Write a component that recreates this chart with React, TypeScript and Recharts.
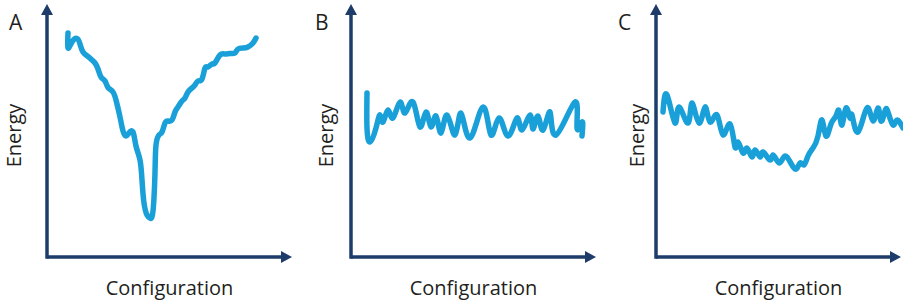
import { LineChart, Line, XAxis, YAxis } from 'recharts'

const AXIS = '#1d3c69'
const CURVE = '#1aa0d8'
const TEXT = '#231f20'
const FONT = '"Open Sans", "DejaVu Sans", sans-serif'

const xLabel = 'Configuration'
const yLabel = 'Energy'

// Panel A: rough funnel with one deep minimum
const configA = [21, 21, 25, 30, 33, 36, 41, 45, 48, 51, 54, 58, 61, 66, 69.5, 73, 76, 79, 82, 86,
  89, 93, 95, 97, 100, 103, 106, 108, 109, 112, 115, 118, 121, 125, 128, 131, 135, 138, 141, 145,
  148, 151, 155, 158, 161, 165, 168, 173, 178, 183, 188, 191, 196, 201, 206, 209]
const energyA = [224, 209, 215, 218.5, 213, 205, 200.5, 197, 194, 188, 180, 176, 169.5, 165, 155, 140, 126, 121, 124, 125,
  111, 97, 77, 54, 42, 39, 46, 85, 112, 122, 125, 134, 136, 137, 145, 150, 156, 159, 165, 169,
  172, 176, 178, 189, 190, 193, 194, 202, 203, 203.5, 204, 208, 209, 210, 214, 219]

// Panel B: flat, noisy landscape
const configB = [16, 16, 19, 25, 29, 32, 37, 42, 49, 54, 62, 69, 75, 80, 85, 90, 96, 104, 110, 119,
  132, 140, 148, 157, 166, 171, 179, 182, 187, 192, 199, 205, 224, 226, 231, 231]
const energyB = [164, 129, 115, 129, 142, 135, 147, 139, 155, 144, 155, 130, 145, 130, 141, 124, 142, 122, 144, 119,
  150, 122, 139, 121, 139, 127, 142, 128, 141, 127, 145, 122, 155, 129, 135, 121]

// Panel C: shallow, wide basin
const configC = [7, 11, 19, 23, 32, 36, 43, 49, 54, 61, 67, 74, 79, 82, 87, 91, 96, 99, 104, 107,
  114, 117, 122, 126, 131, 139, 144, 148, 152, 157, 162, 166, 170, 175, 180, 183, 186, 190, 194, 196,
  202, 211, 217, 222, 225, 229, 232, 237, 241, 247]
const energyC = [145, 162, 134, 150, 134, 154, 134, 150, 135, 142, 122, 133, 110, 115, 104, 109, 100, 107, 100, 105,
  97, 102, 95, 97, 100, 88, 94, 92, 101, 109, 121, 137, 121, 133, 141, 146, 132, 149, 139, 142,
  125, 149, 136, 149, 136, 146, 145, 132, 137, 129]

const zip = (xs: number[], ys: number[]) => xs.map((x, i) => ({ config: x, energy: ys[i] }))

interface PanelProps {
  letter: string
  data: { config: number; energy: number }[]
  left: number
  width: number
  xMax: number
  letterX: number
  labelShift: number
}

const X_SPAN = 235

function Panel({ letter, data, left, width, xMax, letterX, labelShift }: PanelProps) {
  const overflow = xMax - X_SPAN
  return (
    <div style={{ position: 'absolute', left, top: 0 }}>
      <LineChart
        width={width}
        height={302}
        data={data}
        margin={{ top: 14, right: width - 47 - X_SPAN, bottom: 0, left: 7 }}
      >
        <XAxis
          type="number"
          dataKey="config"
          domain={[0, xMax]}
          padding={{ left: 0, right: -overflow }}
          height={45}
          tick={false}
          tickLine={false}
          axisLine={{ stroke: AXIS, strokeWidth: 3.5, markerEnd: 'url(#axisArrow)' }}
          label={{
            value: xLabel,
            position: 'insideBottom',
            offset: 7.5,
            dx: 5,
            fill: TEXT,
            style: { fill: TEXT, fontSize: 20, fontFamily: FONT },
          }}
        />
        <YAxis
          type="number"
          domain={[0, 243]}
          width={40}
          tick={false}
          tickLine={false}
          axisLine={{
            stroke: AXIS,
            strokeWidth: 3.5,
            strokeLinecap: 'square',
            markerStart: 'url(#axisArrow)',
          }}
          label={{
            value: yLabel,
            angle: -90,
            position: 'insideLeft',
            offset: 8,
            dx: labelShift,
            fill: TEXT,
            style: { textAnchor: 'middle', fill: TEXT, fontSize: 20, fontFamily: FONT },
          }}
        />
        <Line
          type="natural"
          dataKey="energy"
          stroke={CURVE}
          strokeWidth={5.5}
          strokeLinejoin="round"
          strokeLinecap="round"
          dot={false}
          activeDot={false}
          isAnimationActive={false}
        />
        <text x={letterX} y={29.5} fill={TEXT} fontSize={21} fontFamily={FONT}>
          {letter}
        </text>
      </LineChart>
    </div>
  )
}

export default function App() {
  return (
    <div style={{ position: 'absolute', left: 0, top: 0, width: 903, height: 302, background: '#fff', overflow: 'hidden' }}>
      <svg width={0} height={0} style={{ position: 'absolute' }}>
        <defs>
          <marker
            id="axisArrow"
            viewBox="0 0 11 12"
            refX={1}
            refY={6}
            markerWidth={11}
            markerHeight={12}
            markerUnits="userSpaceOnUse"
            orient="auto-start-reverse"
          >
            <path d="M0,0 L11,6 L0,12 z" fill={AXIS} />
          </marker>
        </defs>
      </svg>
      <Panel letter="A" data={zip(configA, energyA)} left={0} width={301} xMax={235} letterX={9} labelShift={-1.5} />
      <Panel letter="B" data={zip(configB, energyB)} left={304} width={301} xMax={235} letterX={11} labelShift={6.5} />
      <Panel letter="C" data={zip(configC, energyC)} left={609} width={294} xMax={247} letterX={9} labelShift={13} />
    </div>
  )
}
